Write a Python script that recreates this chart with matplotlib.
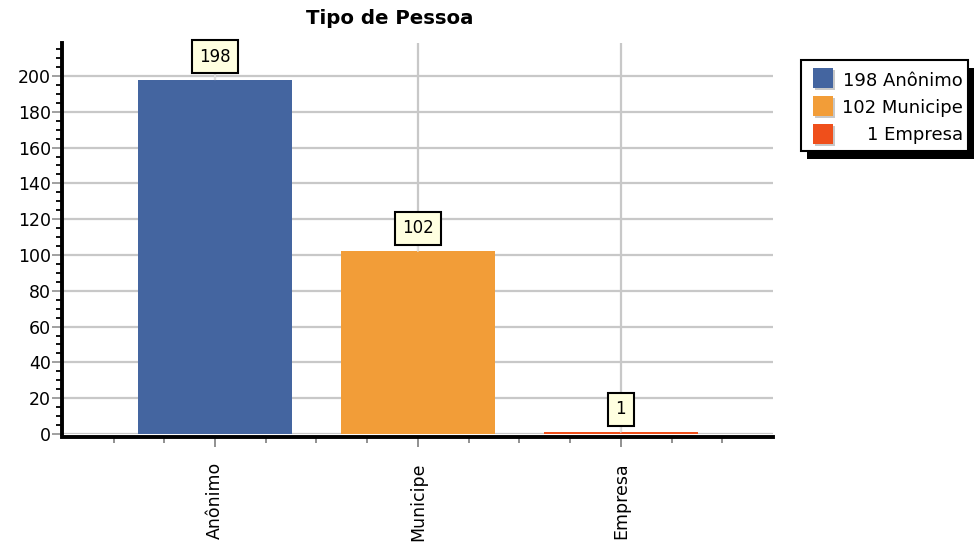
import numpy as np
import matplotlib
matplotlib.use('Agg')
import matplotlib.pyplot as plt
from matplotlib.patches import Rectangle
from matplotlib.ticker import MultipleLocator, FixedLocator

plt.rcParams['font.family'] = ['DejaVu Sans']

# data
categories = ['Anônimo', 'Municipe', 'Empresa']
values = [198, 102, 1]
colors = ['#4465a0', '#f29d38', '#ef4f1b']
title = 'Tipo de Pessoa'

fig = plt.figure(figsize=(9.75, 5.56), dpi=100)
ax = fig.add_axes([62 / 975, 1 - 434 / 556, (773 - 62) / 975, (434 - 43) / 556])

x = np.arange(len(categories))
ax.bar(x, values, width=0.76, color=colors, zorder=3)

# spines first (set_position resets the ticks)
for s in ['top', 'right']:
    ax.spines[s].set_visible(False)
for s in ['left', 'bottom']:
    ax.spines[s].set_linewidth(2.8)
    ax.spines[s].set_color('black')
    ax.spines[s].set_zorder(4)
ax.spines['bottom'].set_position(('outward', 1.8))

ax.set_xlim(-0.754, 2.75)
ax.set_ylim(0, 218.4)

# grid
ax.set_axisbelow(True)
ax.grid(True, which='major', color='#c8c8c8', linewidth=1.6, zorder=0)

# ticks
ax.set_xticks(x)
ax.set_xticklabels(categories, rotation=90, fontsize=12.5)
ax.xaxis.set_minor_locator(FixedLocator(np.arange(-0.5, 2.51, 0.25)))
ax.tick_params(axis='x', which='major', length=7.5, width=1.3, color='#888888', pad=11)
ax.tick_params(axis='x', which='minor', length=4.5, width=1.3, color='#888888')

ax.yaxis.set_major_locator(MultipleLocator(20))
ax.yaxis.set_minor_locator(MultipleLocator(5))
ax.tick_params(axis='y', which='major', length=7, width=1.3, color='#999999', labelsize=12.5, pad=1)
ax.tick_params(axis='y', which='minor', length=4, width=1.3, color='black')

# value labels
for xi, v in zip(x, values):
    ax.annotate(str(v), xy=(xi, v), xytext=(0, 16.5), textcoords='offset points',
                ha='center', va='center', fontsize=12, zorder=5,
                bbox=dict(boxstyle='square,pad=0.45', fc='#ffffe0', ec='black', lw=1.5),
                arrowprops=dict(arrowstyle='-', color='#e8e8e8', lw=1, shrinkA=0, shrinkB=0))

def fx(px):
    return px / 975

def fy(py):
    return 1 - py / 556

fig.text(fx(389.5), fy(24), title, ha='center', va='baseline',
         fontsize=14.2, fontweight='bold')

# legend, drawn by hand in figure pixels
shadow = Rectangle((fx(807), fy(159)), fx(968 - 801), (151 - 60) / 556,
                   transform=fig.transFigure, fc='black', ec='none', zorder=1)
box = Rectangle((fx(801), fy(151)), fx(968 - 801), (151 - 60) / 556,
                transform=fig.transFigure, fc='white', ec='black', lw=1.5, zorder=2)
fig.patches.extend([shadow, box])

sq_tops = [68, 96, 124]
baselines = [86, 113, 140]
for top, base, v, c, col in zip(sq_tops, baselines, values, categories, colors):
    sh = Rectangle((fx(815), fy(top + 22)), fx(20), 20 / 556,
                   transform=fig.transFigure, fc='#c8c8c8', ec='none', zorder=3)
    sq = Rectangle((fx(813), fy(top + 20)), fx(20), 20 / 556,
                   transform=fig.transFigure, fc=col, ec='none', zorder=4)
    fig.patches.extend([sh, sq])
    fig.text(fx(963), fy(base), f'{v} {c}', ha='right', va='baseline', fontsize=13, zorder=5)

fig.savefig('out.png', dpi=100)
